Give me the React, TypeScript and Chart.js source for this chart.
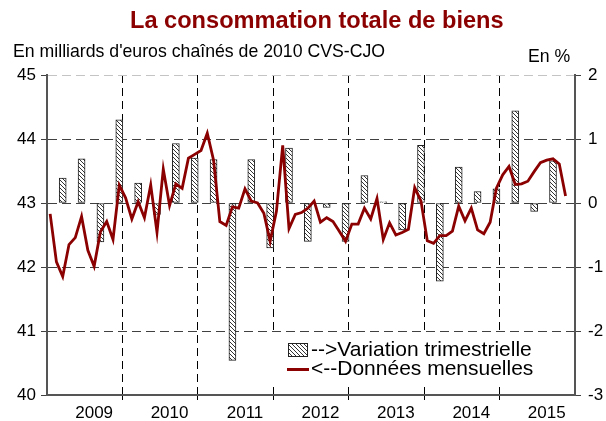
import React, { useEffect, useRef } from 'react';
import { Chart, registerables } from 'chart.js';

Chart.register(...registerables);

// ---- Data ----
const years = [2009, 2010, 2011, 2012, 2013, 2014, 2015];
const monthNames = ['01', '02', '03', '04', '05', '06', '07', '08', '09', '10', '11', '12'];
const categories: string[] = years.flatMap((y) => monthNames.map((m) => `${y}-${m}`));

// Monthly consumption of goods, billions of chained 2010 euros (Jan 2009 - Nov 2015)
const monthlyLevels = [
  42.83, 42.08, 41.85, 42.35, 42.46, 42.79, 42.26, 42.01, 42.55, 42.71, 42.43, 43.28,
  43.08, 42.75, 43.02, 42.77, 43.28, 42.54, 43.53, 42.96, 43.30, 43.23, 43.70, 43.76,
  43.82, 44.09, 43.67, 42.71, 42.65, 42.94, 42.92, 43.22, 43.03, 43.00, 42.84, 42.40,
  42.87, 43.90, 42.60, 42.82, 42.85, 42.92, 43.03, 42.70, 42.77, 42.71, 42.56, 42.40,
  42.67, 42.67, 42.92, 42.75, 43.07, 42.43, 42.69, 42.50, 42.54, 42.59, 43.24, 43.03,
  42.41, 42.37, 42.49, 42.49, 42.56, 42.95, 42.72, 42.92, 42.58, 42.52, 42.70, 43.23,
  43.44, 43.57, 43.29, 43.30, 43.34, 43.49, 43.63, 43.67, 43.69, 43.61, 43.11,
];

// Quarterly change in % (Q1 2009 - Q3 2015), plotted at the last month of each quarter
const quarterlyChange = [
  0.39, 0.69, -0.61, 1.30,
  0.31, -0.18, 0.93, 0.70,
  0.68, -2.46, 0.68, -0.70,
  0.86, -0.60, -0.07, -0.60,
  0.43, 0.02, -0.42, 0.90,
  -1.22, 0.56, 0.18, 0.22,
  1.44, -0.13, 0.66,
];

const leftTicks = [40, 41, 42, 43, 44, 45];
const rightTicks = [-3, -2, -1, 0, 1, 2];

const TITLE = 'La consommation totale de biens';
const SUBTITLE = "En milliards d'euros chaînés de 2010 CVS-CJO";
const RIGHT_UNIT = 'En %';
const LEGEND_BARS = '-->Variation trimestrielle';
const LEGEND_LINE = '<--Données mensuelles';

const FONT = '"Liberation Sans", Arial, Helvetica, sans-serif';
const DARK_RED = '#8b0000';

function makeHatch(): CanvasPattern | string {
  const c = document.createElement('canvas');
  c.width = 4;
  c.height = 4;
  const g = c.getContext('2d');
  if (!g) return '#fff';
  g.fillStyle = '#ffffff';
  g.fillRect(0, 0, 4, 4);
  g.strokeStyle = '#333333';
  g.lineWidth = 1;
  g.beginPath();
  g.moveTo(-1, -1);
  g.lineTo(5, 5);
  g.moveTo(3, -1);
  g.lineTo(5, 1);
  g.moveTo(-1, 3);
  g.lineTo(1, 5);
  g.stroke();
  return g.createPattern(c, 'repeat') || '#fff';
}

export default function App() {
  const canvasRef = useRef<HTMLCanvasElement | null>(null);

  useEffect(() => {
    if (!canvasRef.current) return;
    const hatch = makeHatch();

    const barSlots: (number | null)[] = categories.map(() => null);
    quarterlyChange.forEach((v, q) => {
      barSlots[q * 3 + 2] = v;
    });
    const lineData: (number | null)[] = categories.map((_, i) =>
      i < monthlyLevels.length ? monthlyLevels[i] : null
    );

    const legendPlugin = {
      id: 'customLegend',
      afterDatasetsDraw(chart: any) {
        const ctx = chart.ctx as CanvasRenderingContext2D;
        ctx.save();
        ctx.fillStyle = '#ffffff';
        ctx.fillRect(266, 334, 307, 49);
        ctx.fillStyle = hatch as any;
        ctx.fillRect(288, 343, 19, 13);
        ctx.strokeStyle = '#222';
        ctx.lineWidth = 1;
        ctx.strokeRect(288.5, 343.5, 19, 13);
        ctx.strokeStyle = DARK_RED;
        ctx.lineWidth = 3;
        ctx.beginPath();
        ctx.moveTo(287, 369.5);
        ctx.lineTo(309, 369.5);
        ctx.stroke();
        ctx.fillStyle = '#000';
        ctx.font = `21px ${FONT}`;
        ctx.textBaseline = 'middle';
        ctx.textAlign = 'left';
        ctx.fillText(LEGEND_BARS, 311, 350);
        ctx.fillText(LEGEND_LINE, 311, 369);
        ctx.restore();
      },
    };

    const chart = new Chart(canvasRef.current, {
      type: 'bar',
      data: {
        labels: categories,
        datasets: [
          {
            type: 'line',
            label: LEGEND_LINE,
            data: lineData,
            yAxisID: 'y',
            borderColor: DARK_RED,
            backgroundColor: DARK_RED,
            borderWidth: 2.8,
            pointRadius: 0,
            tension: 0,
            order: 0,
          } as any,
          {
            type: 'bar',
            label: LEGEND_BARS,
            data: barSlots,
            yAxisID: 'y1',
            backgroundColor: hatch as any,
            borderColor: '#222',
            borderWidth: 1,
            borderSkipped: false,
            barThickness: 7,
            order: 1,
          } as any,
        ],
      },
      options: {
        responsive: false,
        animation: false,
        devicePixelRatio: 1,
        layout: { padding: { top: 75, bottom: 0, left: 0, right: 0 } },
        plugins: {
          legend: { display: false },
          title: { display: false },
          tooltip: { enabled: false },
        },
        scales: {
          x: {
            type: 'category',
            offset: true,
            grid: {
              offset: true,
              drawOnChartArea: true,
              color: (ctx: any) =>
                ctx.index % 12 === 0 && ctx.index > 0 && ctx.index < categories.length ? '#000' : 'transparent',
              lineWidth: 1,
              tickLength: 5,
            },
            border: { display: true, color: '#555', width: 2, dash: [8, 5] },
            ticks: {
              autoSkip: false,
              maxRotation: 0,
              minRotation: 0,
              padding: 3,
              color: '#000',
              font: { family: FONT, size: 17 },
              callback: (_v: any, idx: number) => (idx % 12 === 7 ? String(years[Math.floor(idx / 12)]) : ''),
            },
            afterFit: (s: any) => {
              s.height = 26;
            },
          },
          y: {
            type: 'linear',
            position: 'left',
            min: leftTicks[0],
            max: leftTicks[leftTicks.length - 1],
            afterBuildTicks: (s: any) => {
              s.ticks = leftTicks.map((v) => ({ value: v }));
            },
            ticks: {
              padding: 5,
              color: '#000',
              font: { family: FONT, size: 17 },
            },
            grid: {
              color: (ctx: any) => {
                const v = ctx.tick ? ctx.tick.value : null;
                if (v === 45) return '#c4c4c4';
                if (v === 40) return 'transparent';
                return '#404040';
              },
              tickColor: '#404040',
              tickLength: 6,
              lineWidth: 1,
            },
            border: { display: true, color: '#555', width: 2, dash: [9, 5] },
            afterFit: (s: any) => {
              s.width = 47;
            },
          },
          y1: {
            type: 'linear',
            position: 'right',
            min: rightTicks[0],
            max: rightTicks[rightTicks.length - 1],
            afterBuildTicks: (s: any) => {
              s.ticks = rightTicks.map((v) => ({ value: v }));
            },
            ticks: {
              padding: 7,
              color: '#000',
              font: { family: FONT, size: 17 },
            },
            grid: {
              drawOnChartArea: false,
              color: '#404040',
              tickLength: 6,
            },
            border: { display: true, color: '#555', width: 2 },
            afterFit: (s: any) => {
              s.width = 31;
            },
          },
        },
      } as any,
      plugins: [legendPlugin],
    });

    return () => chart.destroy();
  }, []);

  return (
    <div
      style={{
        position: 'fixed',
        left: 0,
        top: 0,
        width: 606,
        height: 421,
        background: '#fff',
        overflow: 'hidden',
        fontFamily: FONT,
      }}
    >
      <canvas ref={canvasRef} width={606} height={421} style={{ position: 'absolute', left: 0, top: 0 }} />
      <div
        style={{
          position: 'absolute',
          left: 130,
          top: 9,
          fontSize: 23.6,
          lineHeight: 1,
          fontWeight: 'bold',
          color: DARK_RED,
          whiteSpace: 'nowrap',
        }}
      >
        {TITLE}
      </div>
      <div
        style={{
          position: 'absolute',
          left: 13,
          top: 43,
          fontSize: 17.7,
          lineHeight: 1,
          color: '#000',
          whiteSpace: 'nowrap',
        }}
      >
        {SUBTITLE}
      </div>
      <div
        style={{
          position: 'absolute',
          left: 528,
          top: 48,
          fontSize: 17.7,
          lineHeight: 1,
          color: '#000',
          whiteSpace: 'nowrap',
        }}
      >
        {RIGHT_UNIT}
      </div>
    </div>
  );
}
